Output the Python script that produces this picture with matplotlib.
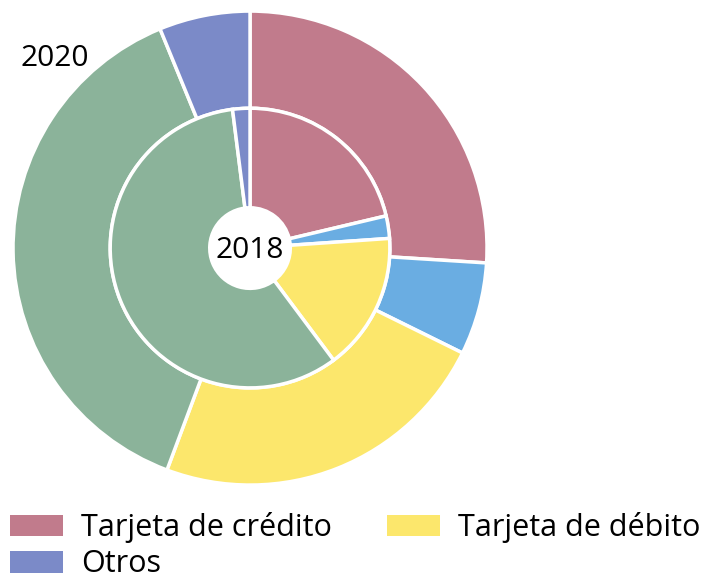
import matplotlib
matplotlib.use('Agg')
import matplotlib.pyplot as plt
from matplotlib.patches import Patch

plt.rcParams['font.family'] = ['Open Sans', 'DejaVu Sans']

# order: crédito, transferencia(blue), débito, efectivo(green), otros
categories = ['Tarjeta de crédito', 'Transferencia', 'Tarjeta de débito', 'Efectivo', 'Otros']
share_2020 = [26.0, 6.3, 23.4, 38.1, 6.2]
share_2018 = [21.3, 2.6, 15.9, 58.2, 2.0]
colors = ['#C17B8C', '#6AADE2', '#FCE76C', '#8BB39A', '#7B8AC8']
legend_labels = ['Tarjeta de crédito', 'Otros', 'Tarjeta de débito']
legend_colors = ['#C17B8C', '#7B8AC8', '#FCE76C']

fig = plt.figure(figsize=(7.08, 5.83), dpi=100)
ax = fig.add_axes([0.0184, 0.168, 0.6695, 0.813])

ax.pie(share_2020, radius=1.0, colors=colors, startangle=90, counterclock=False,
       wedgeprops=dict(width=0.41, edgecolor='white', linewidth=2.5))
ax.pie(share_2018, radius=0.59, colors=colors, startangle=90, counterclock=False,
       wedgeprops=dict(width=0.42, edgecolor='white', linewidth=2.5))
ax.set_xlim(-1, 1)
ax.set_ylim(-1, 1)
ax.set_aspect('equal')

ax.text(0, -0.01, '2018', ha='center', va='center', fontsize=21.5)
fig.text(0.077, 0.90, '2020', ha='center', va='center', fontsize=21.5)

handles = [Patch(facecolor=c) for c in legend_colors]
fig.legend(handles, legend_labels, ncol=2, loc='upper left',
           bbox_to_anchor=(0.012, 0.124), frameon=False, fontsize=22,
           handlelength=1.73, handleheight=0.72, handletextpad=0.59,
           columnspacing=1.8, labelspacing=0.2, borderpad=0.05, borderaxespad=0)

fig.savefig('out.png', dpi=100)
